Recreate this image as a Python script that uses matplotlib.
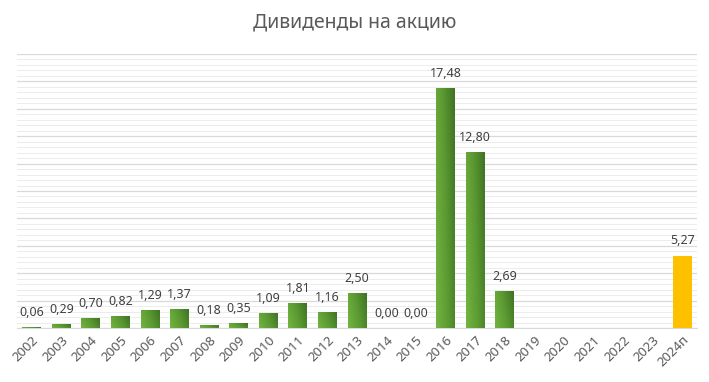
import numpy as np
import matplotlib.pyplot as plt
from matplotlib.colors import LinearSegmentedColormap
from matplotlib.ticker import MultipleLocator

years = ['2002', '2003', '2004', '2005', '2006', '2007', '2008', '2009', '2010',
         '2011', '2012', '2013', '2014', '2015', '2016', '2017', '2018', '2019',
         '2020', '2021', '2022', '2023', '2024п']
values = [0.06, 0.29, 0.70, 0.82, 1.29, 1.37, 0.18, 0.35, 1.09, 1.81, 1.16, 2.50,
          0.00, 0.00, 17.48, 12.80, 2.69, None, None, None, None, None, 5.27]
forecast = [False] * 22 + [True]

plt.rcParams['font.family'] = ['Noto Sans', 'DejaVu Sans']

fig = plt.figure(figsize=(7.09, 3.82), dpi=100)
ax = fig.add_axes([17 / 709, 1 - 328 / 382, 680 / 709, 274 / 382])

green = LinearSegmentedColormap.from_list('g', ['#72b440', '#5c9a32', '#3f7324'])
# diagonal gradient: light at bottom-left, dark at top-right
gx, gy = np.meshgrid(np.linspace(0, 1, 40), np.linspace(0, 1, 40))
grad = 0.75 * gx + 0.25 * gy

width = 0.64
for i, (v, f) in enumerate(zip(values, forecast)):
    if v is None:
        continue
    if f:
        ax.bar(i, v, width=width, color='#ffc000', zorder=3)
    elif v > 0:
        ax.imshow(grad, cmap=green, extent=[i - width / 2, i + width / 2, 0, v],
                  origin='lower', aspect='auto', zorder=3, interpolation='bilinear')
    ax.annotate(f'{v:.2f}'.replace('.', ','), (i, v), xytext=(0, 6),
                textcoords='offset points', ha='center', va='bottom',
                fontsize=9, color='#404040', zorder=4)

ax.set_xlim(-0.5, len(years) - 0.5)
ax.set_ylim(0, 20)
ax.yaxis.set_major_locator(MultipleLocator(2))
ax.yaxis.set_minor_locator(MultipleLocator(0.4))
ax.grid(axis='y', which='major', color='#d9d9d9', linewidth=0.9, zorder=0)
ax.grid(axis='y', which='minor', color='#ececec', linewidth=0.7, zorder=0)
ax.set_yticklabels([])
ax.tick_params(axis='y', which='both', length=0)
ax.set_xticks(range(len(years)))
ax.set_xticklabels(years, rotation=45, ha='right', rotation_mode='anchor',
                   fontsize=9.5, color='#595959')
ax.tick_params(axis='x', length=0, pad=4)
for s in ['top', 'right', 'left']:
    ax.spines[s].set_visible(False)
ax.spines['bottom'].set_color('#d9d9d9')

fig.text(0.5, 1 - 22 / 382, 'Дивиденды на акцию', ha='center', va='center',
         fontsize=14, color='#595959')

fig.savefig('out.png', dpi=100)
